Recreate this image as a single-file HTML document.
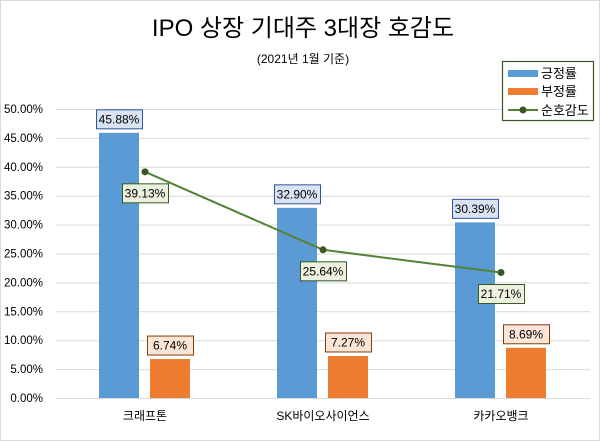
<!DOCTYPE html>
<html><head><meta charset="utf-8"><style>
html,body{margin:0;padding:0;background:#fff;}
svg{display:block;font-family:"Liberation Sans","Noto Sans CJK KR",sans-serif;}
</style></head><body>
<svg id="chart" width="600" height="441" viewBox="0 0 600 441">
<rect x="0.5" y="0.5" width="599" height="440" fill="#fff" stroke="#d9d9d9"/>
<text x="303" y="36" font-size="24" text-anchor="middle" fill="#000">IPO 상장 기대주 3대장 호감도</text>
<text x="303" y="63" font-size="12" text-anchor="middle" fill="#000">(2021년 1월 기준)</text>
<g id="grid"></g><g id="marks"></g><g id="labels"></g>
<g>
<rect x="502.5" y="61.5" width="91" height="59" fill="#fff" stroke="#385723" stroke-width="1.2"/>
<rect x="508" y="70" width="30" height="7" fill="#5b9bd5"/>
<text x="541" y="78" font-size="13">긍정률</text>
<rect x="508" y="88" width="30" height="7" fill="#ed7d31"/>
<text x="541" y="96" font-size="13">부정률</text>
<line x1="508" y1="110" x2="538" y2="110" stroke="#548235" stroke-width="2"/>
<circle cx="523" cy="110" r="3.5" fill="#385723"/>
<text x="541" y="115" font-size="13">순호감도</text>
</g>
</svg>
<script>
const categories = ["크래프톤", "SK바이오사이언스", "카카오뱅크"];
const positive = [45.88, 32.90, 30.39];
const negative = [6.74, 7.27, 8.69];
const net = [39.13, 25.64, 21.71];
const yTicks = [0, 5, 10, 15, 20, 25, 30, 35, 40, 45, 50];

const NS = "http://www.w3.org/2000/svg";
const plotL = 56, plotR = 590, y0 = 398, y50 = 109;
const y = v => y0 - (v / 50) * (y0 - y50);
const step = (plotR - plotL) / categories.length;
const cx = i => plotL + step * (i + 0.5);
function mk(tag, attrs, parent, text) {
  const e = document.createElementNS(NS, tag);
  for (const k in attrs) e.setAttribute(k, attrs[k]);
  if (text !== undefined) e.textContent = text;
  parent.appendChild(e);
  return e;
}
const grid = document.getElementById("grid"), marks = document.getElementById("marks"), labels = document.getElementById("labels");
yTicks.forEach(t => {
  const g = mk("line", {x1: plotL, x2: plotR, y1: y(t) + 0.5, y2: y(t) + 0.5, stroke: "#d9d9d9", "stroke-width": 1}, grid);
  
  
  const tl = mk("text", {x: 43, y: y(t) + 4, "font-size": 11.5, "text-anchor": "end", fill: "#000"}, grid, t.toFixed(2) + "%");
  
  
});
function box(xc, yc, txt, fill, stroke, name) {
  const w = 46, h = 19;
  const r = mk("rect", {x: xc - w / 2 + 0.5, y: yc - h / 2 + 0.5, width: w, height: h, fill: fill, stroke: stroke}, labels);
  
  
  const t = mk("text", {x: xc, y: yc + 4.5, "font-size": 12, "text-anchor": "middle", fill: "#000"}, labels, txt);
  
  
}
categories.forEach((c, i) => {
  const bw = 40;
  const bx = cx(i) - 46, ox = cx(i) + 5;
  const b = mk("rect", {x: bx, y: y(positive[i]), width: bw, height: y0 - y(positive[i]), fill: "#5b9bd5"}, marks);
  
  
  const o = mk("rect", {x: ox, y: y(negative[i]), width: bw, height: y0 - y(negative[i]), fill: "#ed7d31"}, marks);
  
  
  box(bx + bw / 2, y(positive[i]) - 14, positive[i].toFixed(2) + "%", "#dae3f3", "#2f5597", "label-positive");
  box(ox + bw / 2, y(negative[i]) - 14, negative[i].toFixed(2) + "%", "#fbe5d6", "#843c0c", "label-negative");
  const xl = mk("text", {x: cx(i), y: 420, "font-size": 12, "text-anchor": "middle", fill: "#000"}, grid, c);
  
  
});
const pts = net.map((v, i) => cx(i) + "," + y(v)).join(" ");
const pl = mk("polyline", {points: pts, fill: "none", stroke: "#548235", "stroke-width": 2}, marks);


net.forEach((v, i) => {
  const p = mk("circle", {cx: cx(i), cy: y(v), r: 3.5, fill: "#385723"}, marks);
  
  
  box(cx(i), y(v) + 21, v.toFixed(2) + "%", "#ebf1de", "#385723", "label-net");
});
</script>
</body></html>
